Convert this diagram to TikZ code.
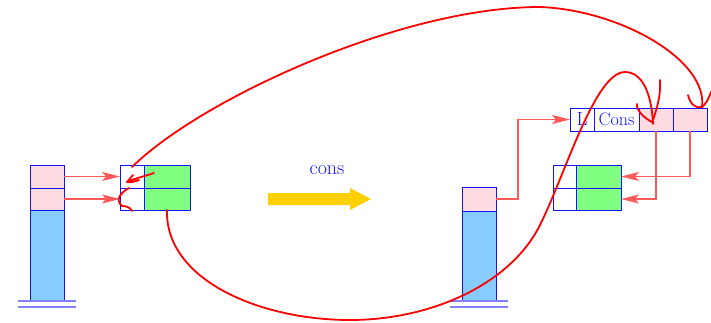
\documentclass[tikz,border=0pt]{standalone}
\usetikzlibrary{arrows.meta}
\definecolor{myblue}{RGB}{20,20,255}
\definecolor{pinkc}{RGB}{255,220,226}
\definecolor{skyc}{RGB}{135,204,255}
\definecolor{greenc}{RGB}{128,255,128}
\definecolor{yellowc}{RGB}{255,208,0}
\definecolor{thinred}{RGB}{255,90,90}
\definecolor{handred}{RGB}{255,0,0}
\definecolor{groundc}{RGB}{130,130,255}
\tikzset{
  cell/.style={draw=myblue, line width=1pt, inner sep=0pt, outer sep=0pt, anchor=north west},
  ptr/.style={draw=thinred, line width=1.1pt, -{Stealth[length=18pt,width=9pt,inset=4pt]}},
  hand/.style={draw=handred, line width=1.8pt, line cap=round, line join=round},
  ground/.style={draw=groundc, line width=1.6pt},
  lbl/.style={text=myblue, inner sep=0pt}
}
\begin{document}
\begin{tikzpicture}[x=1pt,y=-1pt]
\useasboundingbox (0,0) rectangle (711,322);
% left stack
\node[cell,fill=pinkc,minimum width=34,minimum height=23] (ls1) at (30,165) {};
\node[cell,fill=pinkc,minimum width=34,minimum height=22] (ls2) at (30,188) {};
\node[cell,fill=skyc,minimum width=34,minimum height=91] (lsb) at (30,210) {};
\draw[ground] ([xshift=-12pt]lsb.south west) -- ([xshift=12pt]lsb.south east);
\draw[ground] ([xshift=-12pt,yshift=-6pt]lsb.south west) -- ([xshift=12pt,yshift=-6pt]lsb.south east);
% left box
\node[cell,minimum width=24,minimum height=23] (lb11) at (120,165) {};
\node[cell,fill=greenc,minimum width=46,minimum height=23] (lb12) at (144,165) {};
\node[cell,minimum width=24,minimum height=22] (lb21) at (120,188) {};
\node[cell,fill=greenc,minimum width=46,minimum height=22] (lb22) at (144,188) {};
\draw[ptr] (ls1.east) -- (lb11.west);
\draw[ptr] (ls2.east) -- (lb21.west);
% yellow arrow and label
\fill[yellowc] (268,193) -- (350,193) -- (350,188) -- (371,199) -- (350,210) -- (350,205) -- (268,205) -- cycle;
\node[lbl,font=\fontsize{20}{20}\selectfont] (cons) at (327,170) {cons};
% right stack
\node[cell,fill=pinkc,minimum width=34,minimum height=24] (rs1) at (462,187) {};
\node[cell,fill=skyc,minimum width=34,minimum height=90] (rsb) at (462,211) {};
\draw[ground] ([xshift=-12pt]rsb.south west) -- ([xshift=12pt]rsb.south east);
\draw[ground] ([xshift=-12pt,yshift=-6pt]rsb.south west) -- ([xshift=12pt,yshift=-6pt]rsb.south east);
% right box
\node[cell,minimum width=23,minimum height=23] (rb11) at (553,165) {};
\node[cell,fill=greenc,minimum width=45,minimum height=23] (rb12) at (576,165) {};
\node[cell,minimum width=23,minimum height=22] (rb21) at (553,188) {};
\node[cell,fill=greenc,minimum width=45,minimum height=22] (rb22) at (576,188) {};
% top row
\node[cell,minimum width=24,minimum height=23] (tL) at (570,108) {};
\node[cell,minimum width=45,minimum height=23] (tC) at (594,108) {};
\node[cell,fill=pinkc,minimum width=34,minimum height=23] (tP1) at (639,108) {};
\node[cell,fill=pinkc,minimum width=34,minimum height=23] (tP2) at (673,108) {};
\node[lbl,font=\fontsize{19}{19}\selectfont] at (tL.center) {L};
\node[lbl,font=\fontsize{18}{18}\selectfont] at (tC.center) {Cons};
% thin pointers
\draw[ptr] (rs1.east) -- ++(22pt,0) |- (tL.west);
\draw[ptr] (tP1.south) |- (rb22.east);
\draw[ptr] (tP2.south) |- (rb12.east);
% hand-drawn curves
\coordinate (tip1) at (702,107);
\coordinate (tip2) at (653,124);
\draw[hand] ([yshift=-2pt]lb11.north) .. controls (200,100) and (400,7) .. (540,7)
  .. controls (620,10) and (708,60) .. (tip1);
\draw[hand] (688,95) .. controls (690,104) and (696,109) .. (tip1)
  .. controls (706,104) and (709,98) .. (711,92);
\draw[hand] (lb22.south) .. controls (165,280) and (260,320) .. (350,320)
  .. controls (430,320) and (510,285) .. (540,225)
  .. controls (565,175) and (595,72) .. (625,72)
  .. controls (645,72) and (652,100) .. (tip2);
\draw[hand] (637,104) .. controls (636,110) and (644,118) .. (652,122);
\draw[hand] (660,80) .. controls (661,95) and (657,108) .. (653,120);
% little squiggles in left box
\draw[hand] (154,173) .. controls (142,177) and (133,179) .. (127,182)
  .. controls (131,183) and (136,181) .. (139,180);
\draw[hand] (133,175) -- (127,182);
\draw[hand] (129,188) .. controls (120,193) and (115,200) .. (122,206)
  .. controls (126,206) and (130,207) .. (132,211);
\end{tikzpicture}
\end{document}
